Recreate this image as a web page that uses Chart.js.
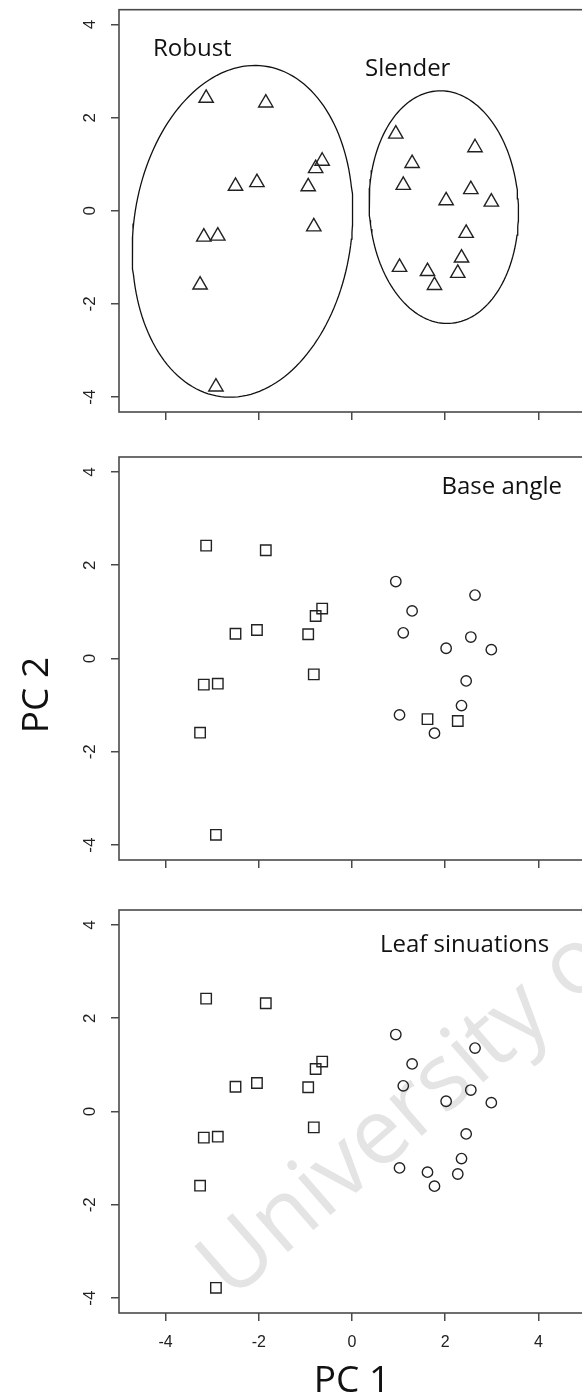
<!DOCTYPE html>
<html>
<head>
<meta charset="utf-8">
<script src="https://cdn.jsdelivr.net/npm/chart.js@4.4.1/dist/chart.umd.min.js"></script>
<style>
  html, body { margin: 0; padding: 0; background: #fff; width: 582px; height: 1400px; overflow: hidden; }
  body { position: relative; }
  canvas { position: absolute; left: 0; z-index: 1; }
  #c1 { top: 0; }
  #c2 { top: 440px; }
  #c3 { top: 890px; }
  #pc2 {
    position: absolute; left: -32px; top: 675px; width: 120px; height: 40px;
    line-height: 40px; text-align: center; font: 37px "Open Sans"; color: #111;
    transform: rotate(-90deg); z-index: 2;
  }
  #wm {
    position: absolute; left: 232px; top: 1220px; white-space: nowrap;
    font: 92px "Open Sans"; line-height: 92px; color: #e4e4e4;
    transform-origin: 0 82px; transform: rotate(-41deg); z-index: 0;
  }
</style>
</head>
<body>
<div id="wm">University of</div>
<div id="pc2">PC 2</div>
<canvas id="c1" width="600" height="440"></canvas>
<canvas id="c2" width="600" height="450"></canvas>
<canvas id="c3" width="600" height="510"></canvas>
<script>
// PC scores
const robustPC1 = [-3.13, -1.85, -0.64, -0.78, -2.50, -2.04, -0.94, -0.82, -3.18, -2.88, -3.26, -2.92];
const robustPC2 = [2.42, 2.32, 1.07, 0.91, 0.53, 0.61, 0.52, -0.34, -0.56, -0.54, -1.59, -3.78];
const slenderPC1 = [0.94, 2.64, 1.29, 1.10, 2.55, 2.02, 2.99, 2.45, 2.35, 1.02, 1.62, 2.27, 1.77];
const slenderPC2 = [1.65, 1.36, 1.02, 0.55, 0.46, 0.22, 0.19, -0.48, -1.01, -1.21, -1.30, -1.34, -1.60];

// slender specimens that fall with the robust class on base angle
const baseAngleSquares = [10, 11];

const xTicks = [-4, -2, 0, 2, 4];
const yTicks = [-4, -2, 0, 2, 4];

// group ellipses (centre, half axes, tilt in degrees)
const robustEllipse = { cx: -2.35, cy: -0.44, a: 3.58, b: 2.34, tilt: 7.5 };
const slenderEllipse = { cx: 1.97, cy: 0.08, a: 2.50, b: 1.60, tilt: -2.8 };

function points(xs, ys) {
  return xs.map((x, i) => ({ x: x, y: ys[i] }));
}

function ellipsePoints(e) {
  const pts = [];
  const th = e.tilt * Math.PI / 180;
  for (let i = 0; i <= 160; i++) {
    const t = i / 160 * 2 * Math.PI;
    const u = e.b * Math.cos(t);
    const v = e.a * Math.sin(t);
    pts.push({ x: e.cx + u * Math.cos(th) + v * Math.sin(th), y: e.cy - u * Math.sin(th) + v * Math.cos(th) });
  }
  return pts;
}

function markers(data, style, r) {
  return {
    data: data,
    pointStyle: style,
    pointRadius: r,
    pointHoverRadius: r,
    pointBorderColor: '#222',
    pointBackgroundColor: 'rgba(0,0,0,0)',
    pointBorderWidth: 1.4
  };
}

function ellipseLine(e) {
  return {
    data: ellipsePoints(e),
    showLine: true,
    pointRadius: 0,
    borderColor: '#111',
    borderWidth: 1.3,
    tension: 0
  };
}

// box around the plot region
const boxPlugin = {
  id: 'box',
  afterDraw(chart) {
    const a = chart.chartArea;
    const ctx = chart.ctx;
    ctx.save();
    ctx.strokeStyle = '#4a4a4a';
    ctx.lineWidth = 1.6;
    ctx.strokeRect(a.left, a.top, a.right - a.left, a.bottom - a.top);
    ctx.restore();
  }
};

function textPlugin(labels) {
  return {
    id: 'panelText',
    afterDatasetsDraw(chart) {
      const { ctx, scales: { x, y } } = chart;
      ctx.save();
      ctx.font = '24px "Open Sans"';
      ctx.fillStyle = '#111';
      ctx.textAlign = 'left';
      ctx.textBaseline = 'alphabetic';
      labels.forEach(l => ctx.fillText(l.text, x.getPixelForValue(l.x), y.getPixelForValue(l.y)));
      ctx.restore();
    }
  };
}

const gridOpts = { drawOnChartArea: false, drawTicks: true, tickLength: 8, color: '#4a4a4a', lineWidth: 1.5 };

function panel(id, padTop, axisH, datasets, labels, showX) {
  return new Chart(document.getElementById(id), {
    type: 'scatter',
    data: { datasets: datasets },
    options: {
      responsive: false,
      animation: false,
      events: [],
      layout: { padding: { top: padTop, right: 15, bottom: 0, left: 0 } },
      plugins: { legend: { display: false }, tooltip: { enabled: false } },
      scales: {
        x: {
          type: 'linear',
          min: -5,
          max: 5,
          afterBuildTicks: s => { s.ticks = xTicks.map(v => ({ value: v })); },
          afterFit: s => { s.height = axisH; s.paddingLeft = 0; s.paddingRight = 0; },
          grid: gridOpts,
          border: { display: false },
          ticks: { display: showX, color: '#222', padding: 12, font: { family: 'Liberation Sans', size: 16 } },
          title: {
            display: showX,
            text: 'PC 1',
            color: '#111',
            font: { family: 'Open Sans', size: 37, lineHeight: 1 },
            padding: 0
          }
        },
        y: {
          type: 'linear',
          min: -4.32,
          max: 4.32,
          afterBuildTicks: s => { s.ticks = yTicks.map(v => ({ value: v })); },
          afterFit: s => { s.width = 119; s.paddingTop = 0; s.paddingBottom = 0; },
          grid: gridOpts,
          border: { display: false },
          ticks: {
            minRotation: 90, maxRotation: 90, crossAlign: 'center', padding: 13,
            color: '#222', font: { family: 'Liberation Sans', size: 17 }
          }
        }
      }
    },
    plugins: [boxPlugin, textPlugin(labels)]
  });
}

const robustPts = points(robustPC1, robustPC2);
const slenderPts = points(slenderPC1, slenderPC2);

// Panel 1: classes with ellipses
panel('c1', 9, 28, [
  ellipseLine(robustEllipse),
  ellipseLine(slenderEllipse),
  markers(robustPts, 'triangle', 8.3),
  markers(slenderPts, 'triangle', 8.3)
], [
  { text: 'Robust', x: -4.27, y: 3.32 },
  { text: 'Slender', x: 0.28, y: 2.89 }
], false);

// Panel 2: base angle
const baseSq = robustPts.concat(slenderPts.filter((p, i) => baseAngleSquares.includes(i)));
const baseCi = slenderPts.filter((p, i) => !baseAngleSquares.includes(i));
panel('c2', 17, 30, [
  markers(baseSq, 'rect', 7.4),
  markers(baseCi, 'circle', 5.2)
], [
  { text: 'Base angle', x: 1.92, y: 3.53 }
], false);

// Panel 3: leaf sinuations
panel('c3', 20, 87, [
  markers(robustPts, 'rect', 7.4),
  markers(slenderPts, 'circle', 5.2)
], [
  { text: 'Leaf sinuations', x: 0.60, y: 3.43 }
], true);
</script>
</body>
</html>
